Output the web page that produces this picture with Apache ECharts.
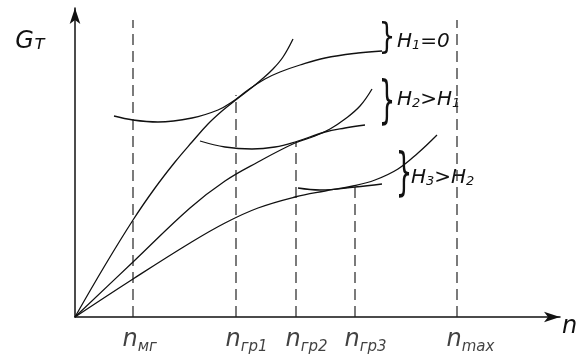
<!DOCTYPE html>
<html>
<head>
<meta charset="utf-8">
<script src="https://cdn.jsdelivr.net/npm/echarts@6/dist/echarts.min.js"></script>
<style>html,body{margin:0;padding:0;background:#fff;}#c{width:585px;height:364px;}</style>
</head>
<body>
<div id="c"></div>
<script>
// Fuel-consumption curves (data units: arbitrary)
const rayH1 = [[0,0],[29,50],[58,97],[80,129],[100,155],[117,175],[133,193],[147,206],[162,218],[175,228],[186,237],[198,248],[208,260],[218,278]];
const speedH1 = [[39,201],[58,197],[83,195],[117,199],[143,207],[157,215],[173,227],[190,238],[205,245],[225,252],[250,259],[283,264],[307,266]];
const rayH2 = [[0,0],[58,55],[115,109],[150,136],[183,155],[220,174],[240,181],[255,188],[270,198],[285,211],[297,228]];
const speedH2 = [[125,176],[150,170],[177,168],[200,170],[220,175],[250,185],[270,189],[290,192]];
const rayH3 = [[0,0],[58,38],[115,74],[150,94],[183,109],[220,120],[250,126],[278,131],[300,137],[323,148],[343,164],[362,182]];
const speedH3 = [[223,129],[245,127],[280,130],[307,133]];
// Characteristic speeds on the n axis
const nValues = [58, 161, 221, 280, 382];
const nSubs = ['мг', 'гр1', 'гр2', 'гр3', 'max'];
const nTops = [297, 222, 175, 132, 297];

const FONT = 'DejaVu Sans';
const ink = '#111';

const curveStyle = {color: ink, width: 1.3};
function curve(name, data) {
  return {name, type: 'line', data, smooth: 0.4, symbol: 'none', lineStyle: curveStyle, silent: true, z: 3};
}
const dashSeries = nValues.map((x, i) => ({
  name: 'dash' + i, type: 'line', symbol: 'none', silent: true,
  data: [[x, 0], [x, nTops[i]]],
  lineStyle: {color: '#222', width: 1.2, type: [11, 6]}, z: 2
}));
const labelSeries = {
  name: 'nLabels', type: 'scatter', symbolSize: 1, itemStyle: {color: 'rgba(0,0,0,0)'}, silent: true,
  data: nValues.map((x, i) => ({value: [x, 0], sub: nSubs[i]})),
  label: {
    show: true, position: [-10, 11], align: 'left',
    formatter: p => '{n|n}{s|' + p.data.sub + '}',
    rich: {
      n: {fontFamily: FONT, fontStyle: 'italic', fontSize: 24, color: ink, verticalAlign: 'bottom'},
      s: {fontFamily: FONT, fontStyle: 'italic', fontSize: 15, color: ink, verticalAlign: 'bottom', padding: [0, 0, -3, 0]}
    }
  }
};

const chart = echarts.init(document.getElementById('c'), null, {renderer: 'canvas'});
const hRich = {
  h: {fontFamily: FONT, fontStyle: 'italic', fontSize: 20, fill: ink, verticalAlign: 'bottom'},
  s: {fontFamily: FONT, fontStyle: 'italic', fontSize: 13, fill: ink, verticalAlign: 'bottom'}
};
function brace(x, y, sy) {
  return {type: 'text', x, y, scaleY: sy, silent: true,
    style: {text: '}', font: '26px ' + FONT, fill: ink, textAlign: 'center', textVerticalAlign: 'middle'}};
}
function hLabel(x, y, text) {
  return {type: 'text', x, y, silent: true,
    style: {text, rich: hRich, textAlign: 'left', textVerticalAlign: 'middle', fill: ink}};
}

chart.setOption({
  animation: false,
  backgroundColor: '#fff',
  grid: {left: 75, right: 25, top: 8, bottom: 47},
  xAxis: {
    type: 'value', min: 0, max: 485,
    axisLine: {show: true, onZero: false, symbol: ['none', 'arrow'], symbolSize: [8, 16], lineStyle: {color: ink, width: 1.5}},
    axisTick: {show: false}, axisLabel: {show: false}, splitLine: {show: false},
    name: 'n', nameLocation: 'end', nameGap: 2,
    nameTextStyle: {fontFamily: FONT, fontStyle: 'italic', fontSize: 24, color: ink, verticalAlign: 'top', align: 'left', padding: [-2, 0, 0, 0]}
  },
  yAxis: {
    type: 'value', min: 0, max: 309,
    axisLine: {show: true, onZero: false, symbol: ['none', 'arrow'], symbolSize: [8, 16], lineStyle: {color: ink, width: 1.5}},
    axisTick: {show: false}, axisLabel: {show: false}, splitLine: {show: false},
    name: '{g|G}{t|т}', nameLocation: 'end', nameGap: -22,
    nameTextStyle: {align: 'right', verticalAlign: 'top', padding: [0, 30, 0, 0],
      rich: {
        g: {fontFamily: FONT, fontStyle: 'italic', fontSize: 24, color: ink, verticalAlign: 'bottom'},
        t: {fontFamily: FONT, fontStyle: 'italic', fontSize: 19, color: ink, verticalAlign: 'bottom'}
      }}
  },
  graphic: [
    brace(387, 39, 1.35), hLabel(397, 42, '{h|H}{s|1}{h|=0}'),
    brace(387, 104, 1.95), hLabel(397, 100, '{h|H}{s|2}{h|>H}{s|1}'),
    brace(404, 176, 1.95), hLabel(411, 178, '{h|H}{s|3}{h|>H}{s|2}')
  ],
  series: [
    curve('rayH1', rayH1), curve('speedH1', speedH1),
    curve('rayH2', rayH2), curve('speedH2', speedH2),
    curve('rayH3', rayH3), curve('speedH3', speedH3),
    ...dashSeries, labelSeries
  ]
});
</script>
</body>
</html>
